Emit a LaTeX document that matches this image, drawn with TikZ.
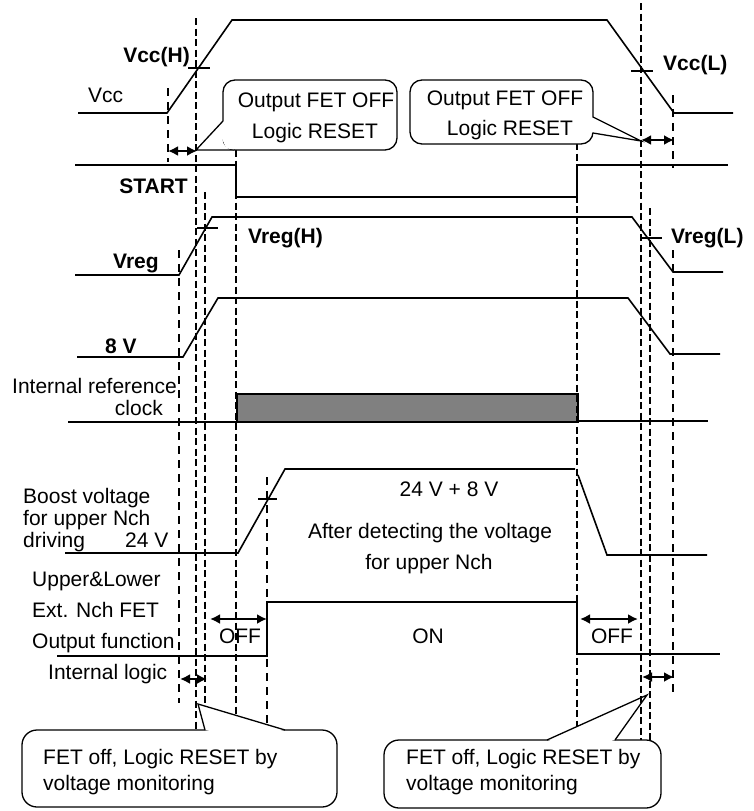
\documentclass[tikz,border=0pt]{standalone}
\usepackage{fontspec}
\setmainfont{Liberation Sans}
\usetikzlibrary{arrows.meta}
\begin{document}
\begin{tikzpicture}[x=1pt,y=-1pt,
  wave/.style={line width=1.6pt, line join=miter},
  thickdash/.style={line width=2.8pt, dash pattern=on 7pt off 3.5pt},
  thindash/.style={line width=1.8pt, dash pattern=on 8pt off 6pt},
  dblarrow/.style={line width=2.3pt, {Latex[length=10pt,width=10pt]}-{Latex[length=10pt,width=10pt]}},
  lbl/.style={inner sep=0pt, font=\fontsize{21}{25}\selectfont},
  blbl/.style={inner sep=0pt, font=\fontsize{21}{25}\selectfont\bfseries},
  callbox/.style={line width=1.3pt, fill=white, rounded corners=12pt},
  tailline/.style={line width=1.3pt, line join=miter}
]
\useasboundingbox (0,0) rectangle (754,811);

% ---------------- waveforms ----------------
% Vcc
\draw[wave] (78,113) -- (167,113) -- (232,20) -- (607,20) -- (674,113) -- (733,113);
\draw[wave] (188,68) -- (210,68);
\draw[wave] (631,71) -- (653,71);
% START
\draw[wave] (75,165) -- (236,165) -- (236,197) -- (577,197) -- (577,165) -- (728,165);
% Vreg
\draw[wave] (75,275) -- (179,275) -- (212,217) -- (632,217) -- (673,272) -- (723,272);
\draw[wave] (197,228) -- (218,228);
\draw[wave] (640,238) -- (662,238);
% 8 V
\draw[wave] (77,357) -- (183,357) -- (218,298) -- (628,298) -- (670,354) -- (720,354);
% Internal reference clock
\draw[wave] (68,422) -- (237,422);
\draw[wave, fill={rgb,255:red,128;green,128;blue,128}] (237,394) rectangle (578,422);
\draw[wave] (578,421) -- (708,421);
% Boost voltage
\draw[wave] (65,553) -- (238,553) -- (285,469) -- (575,469);
\draw[wave] (578,475) -- (607,555) -- (707,555);
\draw[wave] (258,499) -- (277,499);
% Output function
\draw[wave] (57,656) -- (267,656) -- (267,602) -- (577,602) -- (577,654) -- (720,654);

% ---------------- dashed guide lines ----------------
\draw[thindash] (168,88) -- (168,162);
\draw[thickdash] (196,18) -- (196,730);
\draw[thickdash] (205,192) -- (205,703);
\draw[thindash] (179,250) -- (179,703);
\draw[thickdash] (236,150) -- (236,715);
\draw[thindash] (267,477) -- (267,724);
\draw[thickdash] (577,143) -- (577,726);
\draw[thickdash] (641,3) -- (641,740);
\draw[thickdash] (650,208) -- (650,740);
\draw[thindash] (673,95) -- (673,168);
\draw[thindash] (673,250) -- (673,693);

% ---------------- double arrows ----------------
\coordinate (a1l) at (168,151); \coordinate (a1r) at (197,151);
\coordinate (a2l) at (641,140); \coordinate (a2r) at (674,140);
\coordinate (a3l) at (210,619); \coordinate (a3r) at (267,619);
\coordinate (a4l) at (580,619); \coordinate (a4r) at (638,619);
\coordinate (a5l) at (180,679); \coordinate (a5r) at (207,679);
\coordinate (a6l) at (642,677); \coordinate (a6r) at (674,677);
\draw[dblarrow] (a1l) -- (a1r);
\draw[dblarrow] (a2l) -- (a2r);
\draw[dblarrow] (a3l) -- (a3r);
\draw[dblarrow] (a4l) -- (a4r);
\draw[dblarrow] (a5l) -- (a5r);
\draw[dblarrow] (a6l) -- (a6r);

% ---------------- callouts ----------------
% top-left callout
\draw[callbox] (223,80) rectangle (397,150);
\fill[white] (223,121) -- (217,127) -- (226,148) -- (234,150) -- (240,130) -- cycle;
\coordinate (t1) at (196,150);
\draw[tailline] (223,121) -- (t1) -- (234,150);
% top-right callout
\draw[callbox] (410,80) rectangle (593,144);
\fill[white] (593,117) -- (600,121) -- (600,134) -- (593,133) -- (585,125) -- cycle;
\coordinate (t2) at (641,141);
\draw[tailline] (593,117) -- (t2) -- (593,133);
% bottom-left callout
\draw[callbox, rounded corners=15pt] (22,730) rectangle (337,807);
\fill[white] (205,730) -- (204,724) -- (265,724) -- (285,730) -- (245,738) -- cycle;
\coordinate (t3) at (198,704);
\draw[tailline] (205,730) -- (t3) -- (285,730);
% bottom-right callout
\draw[callbox, rounded corners=15pt] (384,740) rectangle (661,808);
\fill[white] (547,740) -- (567,731) -- (621,731) -- (615,740) -- (580,748) -- cycle;
\coordinate (t4) at (647,695);
\draw[tailline] (547,740) -- (t4) -- (615,740);

% ---------------- labels ----------------
\node[blbl, anchor=base east] (vcch) at (190,62) {Vcc(H)};
\node[lbl, anchor=base west] (vcc) at (88,102) {Vcc};
\node[blbl, anchor=base east] (start) at (188,193) {START};
\node[blbl, anchor=base west] (vccl) at (663,70) {Vcc(L)};
\node[blbl, anchor=base west] (vregh) at (248,243) {Vreg(H)};
\node[blbl, anchor=base west] (vreg) at (113,268) {Vreg};
\node[blbl, anchor=base west] (vregl) at (671,243) {Vreg(L)};
\node[blbl, anchor=base west] (eightv) at (105,353) {8 V};
\node[lbl, anchor=base east] (irc1) at (177,393) {Internal reference};
\node[lbl, anchor=base east] (irc2) at (163,415) {clock};
\node[lbl, anchor=base west] (bv1) at (23,503) {Boost voltage};
\node[lbl, anchor=base west] (bv2) at (23,525) {for upper Nch};
\node[lbl, anchor=base west] (bv3) at (23,547) {driving};
\node[lbl, anchor=base west] (v24) at (125,547) {24 V};
\node[lbl, anchor=base] (v32) at (449,496) {24 V + 8 V};
\node[lbl, anchor=base] (adt1) at (430,538) {After detecting the voltage};
\node[lbl, anchor=base] (adt2) at (429,569) {for upper Nch};
\node[lbl, anchor=base west] (ul1) at (32,586) {Upper\&Lower};
\node[lbl, anchor=base west] (ul2) at (32,617) {Ext. Nch FET};
\node[lbl, anchor=base west] (ul3) at (32,648) {Output function};
\node[lbl, anchor=base] (off1) at (240,643) {OFF};
\node[lbl, anchor=base] (on) at (428,643) {ON};
\node[lbl, anchor=base] (off2) at (612,643) {OFF};
\node[lbl, anchor=base west] (il) at (48,679) {Internal logic};
% callout texts
\node[lbl, anchor=base] (c1a) at (316,107) {Output FET OFF};
\node[lbl, anchor=base] (c1b) at (315,138) {Logic RESET};
\node[lbl, anchor=base] (c2a) at (505,105) {Output FET OFF};
\node[lbl, anchor=base] (c2b) at (510,135) {Logic RESET};
\node[lbl, anchor=base west] (c3a) at (43,764) {FET off, Logic RESET by};
\node[lbl, anchor=base west] (c3b) at (43,790) {voltage monitoring};
\node[lbl, anchor=base west] (c4a) at (406,764) {FET off, Logic RESET by};
\node[lbl, anchor=base west] (c4b) at (406,790) {voltage monitoring};
\end{tikzpicture}
\end{document}
